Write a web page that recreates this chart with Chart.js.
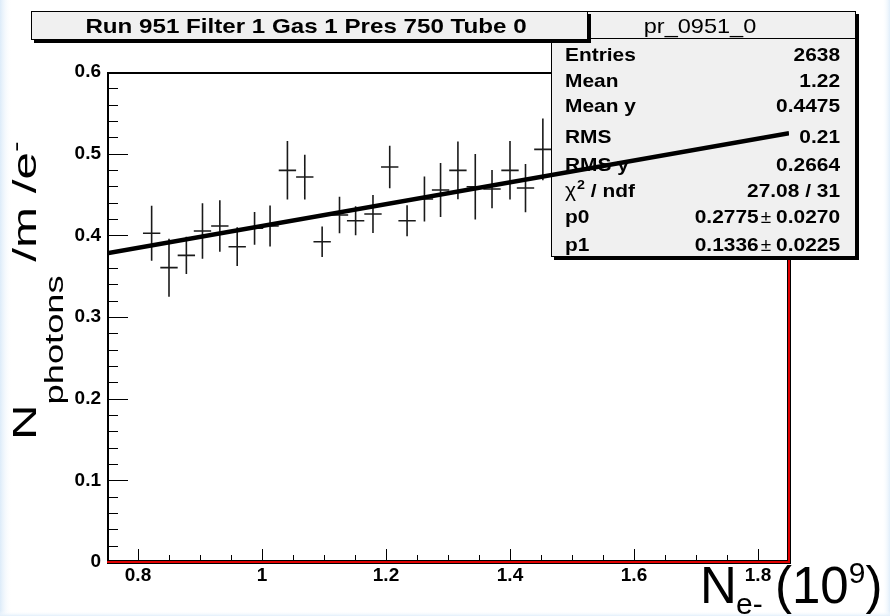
<!DOCTYPE html>
<html>
<head>
<meta charset="utf-8">
<script src="https://cdn.jsdelivr.net/npm/chart.js@4.4.0/dist/chart.umd.min.js"></script>
<style>
  html, body { margin: 0; padding: 0; background: #ffffff; }
  #wrap { width: 890px; height: 616px; }
</style>
</head>
<body>
<div id="wrap"><canvas id="myChart" width="890" height="616"></canvas></div>
<script>
//////////////data///////////////
var xValues = [0.822, 0.850, 0.878, 0.904, 0.932, 0.960, 0.988, 1.013, 1.041, 1.069, 1.097, 1.125,
  1.151, 1.179, 1.206, 1.234, 1.262, 1.288, 1.316, 1.344, 1.371, 1.400, 1.425, 1.453];
var yValues = [0.4025, 0.3604, 0.3755, 0.4053, 0.4114, 0.3861, 0.4086, 0.4114, 0.4796, 0.4714, 0.3922, 0.4249,
  0.4179, 0.4261, 0.4837, 0.4179, 0.4445, 0.4555, 0.4796, 0.4595, 0.4567, 0.4796, 0.4579, 0.5053];
var yErrors = [0.0337, 0.0355, 0.0228, 0.034, 0.0316, 0.0237, 0.020, 0.0251, 0.0358, 0.0274, 0.0187, 0.0222,
  0.0178, 0.0233, 0.0261, 0.019, 0.0276, 0.0331, 0.0353, 0.0402, 0.0234, 0.0358, 0.0296, 0.0378];
var xHalfWidth = 0.014;

// fit line p0 + p1*x, end points
var fitX = [0.75, 1.85];
var fitY = [0.378, 0.525];

var xTicks = [0.8, 1, 1.2, 1.4, 1.6, 1.8];
var yTicks = [0, 0.1, 0.2, 0.3, 0.4, 0.5, 0.6];

var titleText = "Run 951 Filter 1 Gas 1 Pres 750 Tube 0";
var statsName = "pr_0951_0";
var statLabels = ["Entries", "Mean", "Mean y", "RMS", "RMS y", "chi2", "p0", "p1"];
var statValues = ["2638", "1.22", "0.4475", "0.21", "0.2664", "27.08 / 31", "0.2775 \u00b1 0.0270", "0.1336 \u00b1 0.0225"];

var FONT = "'Liberation Sans', Arial, sans-serif";

function txt(ctx, s, x, y, font, align, sx) {
  ctx.save();
  ctx.font = font;
  ctx.fillStyle = "#000";
  ctx.textAlign = align || "left";
  ctx.textBaseline = "alphabetic";
  ctx.translate(x, y);
  ctx.scale(sx || 1, 1);
  ctx.fillText(s, 0, 0);
  ctx.restore();
}

function textWidth(ctx, s, font, sx) {
  ctx.save();
  ctx.font = font;
  var w = ctx.measureText(s).width * (sx || 1);
  ctx.restore();
  return w;
}

function boxWithShadow(ctx, L, T, R, B) {
  ctx.fillStyle = "#000";
  ctx.fillRect(L + 3, B, R - L, 3);
  ctx.fillRect(R, T + 3, 3, B - T);
  ctx.fillStyle = "#f0f0f0";
  ctx.fillRect(L, T, R - L, B - T);
  ctx.strokeStyle = "#000";
  ctx.lineWidth = 1;
  ctx.strokeRect(L + 0.5, T + 0.5, R - L - 1, B - T - 1);
}

function drawStats(ctx) {
  var L = 551, T = 11, R = 856, B = 257;
  boxWithShadow(ctx, L, T, R, B);
  ctx.beginPath();
  ctx.moveTo(L, 38.5);
  ctx.lineTo(R, 38.5);
  ctx.stroke();
  txt(ctx, statsName, 700, 33, "21px " + FONT, "center", 1.12);

  var rows = [61, 87, 112, 143, 171, 197, 223, 251];
  var bold = "bold 19px " + FONT;
  var sx = 1.1;
  for (var i = 0; i < statLabels.length; i++) {
    var y = rows[i];
    if (statLabels[i] == "chi2") {
      txt(ctx, "\u03c7", 565, y, "20px " + FONT, "left", 1.05);
      txt(ctx, "2", 577, y - 8, "bold 13px " + FONT, "left", 1.1);
      txt(ctx, " / ndf", 585, y, bold, "left", sx);
    } else {
      txt(ctx, statLabels[i], 565, y, bold, "left", sx);
    }
    var v = statValues[i];
    if (v.indexOf("\u00b1") > 0) {
      var parts = v.split(" \u00b1 ");
      var w2 = textWidth(ctx, parts[1], bold, sx);
      txt(ctx, parts[1], 840, y, bold, "right", sx);
      var pmX = 840 - w2 - 5;
      txt(ctx, "\u00b1", pmX, y, "19px " + FONT, "right", 1);
      var wpm = textWidth(ctx, "\u00b1", "19px " + FONT, 1);
      txt(ctx, parts[0], pmX - wpm - 2, y, bold, "right", sx);
    } else {
      txt(ctx, v, 840, y, bold, "right", sx);
    }
  }
}

function drawTitle(ctx) {
  boxWithShadow(ctx, 31, 11, 588, 40);
  txt(ctx, titleText, 306, 33, "bold 21px " + FONT, "center", 1.15);
}

function drawAxisTitles(ctx) {
  // y title, rotated
  ctx.save();
  ctx.translate(36, 440);
  ctx.rotate(-Math.PI / 2);
  ctx.scale(1.45, 1);
  ctx.fillStyle = "#000";
  ctx.textBaseline = "alphabetic";
  var x = 0;
  ctx.font = "34px " + FONT;
  ctx.fillText("N", x, 0);
  x += ctx.measureText("N").width;
  ctx.font = "25px " + FONT;
  ctx.fillText("photons", x, 27);
  x += ctx.measureText("photons").width;
  ctx.font = "34px " + FONT;
  ctx.fillText(" /m /e", x, 0);
  x += ctx.measureText(" /m /e").width;
  ctx.font = "22px " + FONT;
  ctx.fillText("-", x, -13);
  ctx.restore();

  // x title
  var big = "51px " + FONT, small = "30px " + FONT;
  txt(ctx, "N", 700, 603, big);
  txt(ctx, "e-", 736, 614, small);
  txt(ctx, "(10", 775, 603, big);
  var w = textWidth(ctx, "(10", big);
  txt(ctx, "9", 775 + w, 583, small);
  var w9 = textWidth(ctx, "9", small);
  txt(ctx, ")", 775 + w + w9, 603, big);
}

var rootPlugin = {
  id: "rootLook",
  beforeDraw: function (chart) {
    var ctx = chart.ctx;
    ctx.save();
    ctx.fillStyle = "#ffffff";
    ctx.fillRect(0, 0, 890, 616);
    var g = ctx.createLinearGradient(0, 0, 12, 0);
    g.addColorStop(0, "#dcebf9");
    g.addColorStop(1, "rgba(255,255,255,0)");
    ctx.fillStyle = g;
    ctx.fillRect(0, 0, 12, 616);
    g = ctx.createLinearGradient(882, 0, 890, 0);
    g.addColorStop(0, "rgba(255,255,255,0)");
    g.addColorStop(1, "#e0eefa");
    ctx.fillStyle = g;
    ctx.fillRect(882, 0, 8, 616);
    g = ctx.createLinearGradient(0, 611, 0, 616);
    g.addColorStop(0, "rgba(255,255,255,0)");
    g.addColorStop(1, "#e2effb");
    ctx.fillStyle = g;
    ctx.fillRect(0, 611, 890, 5);
    ctx.restore();
  },
  beforeDatasetsDraw: function (chart) {
    var ctx = chart.ctx, a = chart.chartArea;
    var xs = chart.scales.x, ys = chart.scales.y;
    ctx.save();
    ctx.strokeStyle = "#000";
    ctx.lineWidth = 2;
    ctx.beginPath();
    ctx.moveTo(a.left + 1, a.bottom);
    ctx.lineTo(a.left + 1, a.top + 1);
    ctx.lineTo(a.right, a.top + 1);
    ctx.stroke();

    ctx.lineWidth = 1;
    ctx.beginPath();
    for (var k = 0; k <= 30; k++) {
      var py = Math.round(ys.getPixelForValue(k * 0.02)) + 0.5;
      var len = (k % 5 == 0) ? 21 : 11;
      ctx.moveTo(a.left, py);
      ctx.lineTo(a.left + len, py);
    }
    for (var j = 16; j <= 36; j++) {
      var px = Math.round(xs.getPixelForValue(j * 0.05)) + 0.5;
      var l2 = (j % 4 == 0) ? 13 : 7;
      ctx.moveTo(px, a.bottom);
      ctx.lineTo(px, a.bottom - l2);
    }
    ctx.stroke();

    // right and bottom edges are red
    ctx.strokeStyle = "#000";
    ctx.lineWidth = 4;
    ctx.beginPath();
    ctx.moveTo(a.left, a.bottom);
    ctx.lineTo(a.right, a.bottom);
    ctx.lineTo(a.right, a.top);
    ctx.stroke();
    ctx.strokeStyle = "#e00000";
    ctx.lineWidth = 2;
    ctx.beginPath();
    ctx.moveTo(a.left, a.bottom);
    ctx.lineTo(a.right, a.bottom);
    ctx.lineTo(a.right, a.top);
    ctx.stroke();
    ctx.restore();
  },
  afterDatasetDraw: function (chart, args) {
    if (args.index !== 1) return;
    var ctx = chart.ctx;
    var xs = chart.scales.x, ys = chart.scales.y;
    ctx.save();
    ctx.strokeStyle = "#1a1a1a";
    ctx.lineWidth = 1.6;
    ctx.beginPath();
    for (var i = 0; i < xValues.length; i++) {
      var px = xs.getPixelForValue(xValues[i]);
      var py = ys.getPixelForValue(yValues[i]);
      ctx.moveTo(px, ys.getPixelForValue(yValues[i] + yErrors[i]));
      ctx.lineTo(px, ys.getPixelForValue(yValues[i] - yErrors[i]));
      ctx.moveTo(xs.getPixelForValue(xValues[i] - xHalfWidth), py);
      ctx.lineTo(xs.getPixelForValue(xValues[i] + xHalfWidth), py);
    }
    ctx.stroke();
    drawStats(ctx);
    ctx.restore();
  },
  afterDraw: function (chart) {
    var ctx = chart.ctx;
    ctx.save();
    drawTitle(ctx);
    drawAxisTitles(ctx);
    ctx.restore();
  }
};

var points = xValues.map(function (x, i) { return { x: x, y: yValues[i] }; });
var fitPoints = fitX.map(function (x, i) { return { x: x, y: fitY[i] }; });

var ctx = document.getElementById("myChart").getContext("2d");
var myChart = new Chart(ctx, {
  type: "scatter",
  plugins: [rootPlugin],
  data: {
    datasets: [
      {
        label: "fit",
        type: "line",
        data: fitPoints,
        borderColor: "#000",
        borderWidth: 4.5,
        pointRadius: 0,
        tension: 0,
        fill: false
      },
      {
        label: statsName,
        data: points,
        pointRadius: 0,
        showLine: false
      }
    ]
  },
  options: {
    responsive: false,
    devicePixelRatio: 1,
    animation: false,
    events: [],
    layout: {
      padding: { left: 0, top: 72, right: 101, bottom: 0 }
    },
    plugins: {
      legend: { display: false },
      tooltip: { enabled: false }
    },
    scales: {
      x: {
        type: "linear",
        min: 0.75,
        max: 1.85,
        grid: { display: false, drawTicks: false },
        border: { display: false },
        afterBuildTicks: function (scale) {
          scale.ticks = xTicks.map(function (v) { return { value: v }; });
        },
        afterFit: function (scale) { scale.height = 54; },
        ticks: {
          padding: 2,
          color: "#000",
          font: { family: FONT, size: 19, weight: "bold" },
          maxRotation: 0,
          callback: function (v) { return String(v); }
        }
      },
      y: {
        type: "linear",
        min: 0,
        max: 0.6,
        grid: { display: false, drawTicks: false },
        border: { display: false },
        afterBuildTicks: function (scale) {
          scale.ticks = yTicks.map(function (v) { return { value: v }; });
        },
        afterFit: function (scale) { scale.width = 107; },
        ticks: {
          padding: 6,
          color: "#000",
          font: { family: FONT, size: 19, weight: "bold" },
          callback: function (v) { return String(v); }
        }
      }
    }
  }
});
</script>
</body>
</html>
